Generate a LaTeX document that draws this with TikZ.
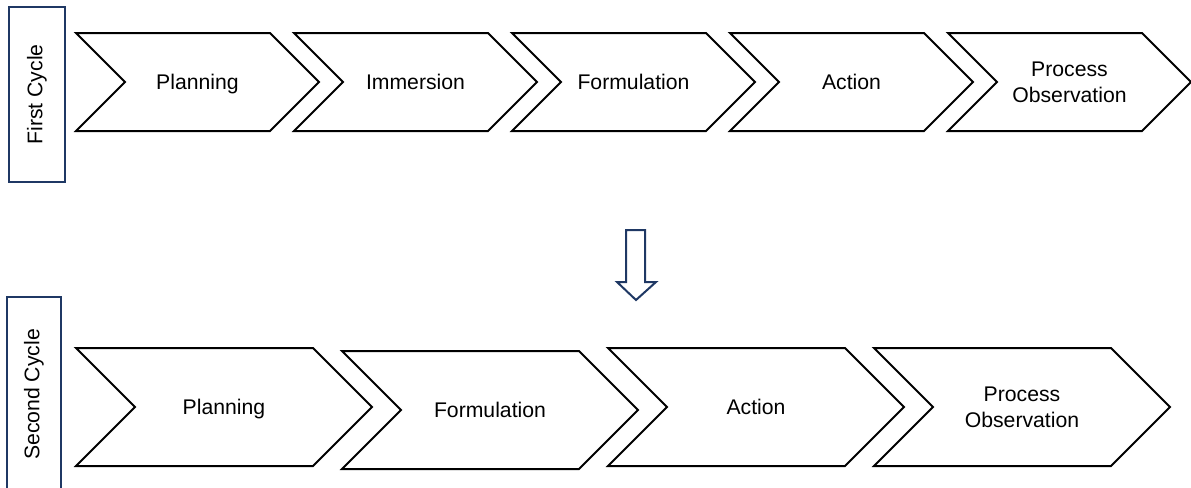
\documentclass[tikz,border=0pt]{standalone}
\usepackage{fontspec}
\setmainfont{Liberation Sans}
\usetikzlibrary{shapes.symbols, positioning}
\definecolor{navy}{HTML}{1F3864}

\begin{document}
\begin{tikzpicture}[x=0.5pt,y=-0.5pt,on grid,
    stage/.style={signal,signal from=west,signal to=east,signal pointer angle=90,
      draw=black,line width=1pt,inner sep=0pt,align=center,text depth=0pt,
      font=\fontsize{10.6}{13}\selectfont},
    small/.style={stage,minimum width=121.5pt,minimum height=49pt},
    big/.style={stage,minimum width=148pt,minimum height=59pt},
    cyclebox/.style={draw=navy,line width=1pt,rotate=90,inner sep=0pt,
      font=\fontsize{10.6}{13}\selectfont}]
    \clip (0,0) rectangle (1191,488);
    % first cycle
    \node[cyclebox,minimum width=87.5pt,minimum height=28pt] (c1) at (37,94.5) {First Cycle};
    \node[small] (p1) at (197.5,82) {Planning};
    \node[small] (p2) [right=109pt of p1] {Immersion};
    \node[small] (p3) [right=109pt of p2] {Formulation};
    \node[small] (p4) [right=109pt of p3] {Action};
    \node[small] (p5) [right=109pt of p4] {Process\\Observation};
    % second cycle
    \node[cyclebox,minimum width=97.5pt,minimum height=27pt] (c2) at (34,394.5) {Second Cycle};
    \node[big] (q1) at (224,407) {Planning};
    \node[big] (q2) [right=133pt of q1,yshift=-1.5pt] {Formulation};
    \node[big] (q3) [right=133pt of q2,yshift=1.5pt] {Action};
    \node[big] (q4) [right=133pt of q3] {Process\\Observation};
    % arrow between the cycles
    \draw[navy,line width=1pt] (626,230) -- (645,230) -- (645,282) -- (656,282)
      -- (636,300) -- (617,282) -- (626,282) -- cycle;
\end{tikzpicture}
\end{document}
